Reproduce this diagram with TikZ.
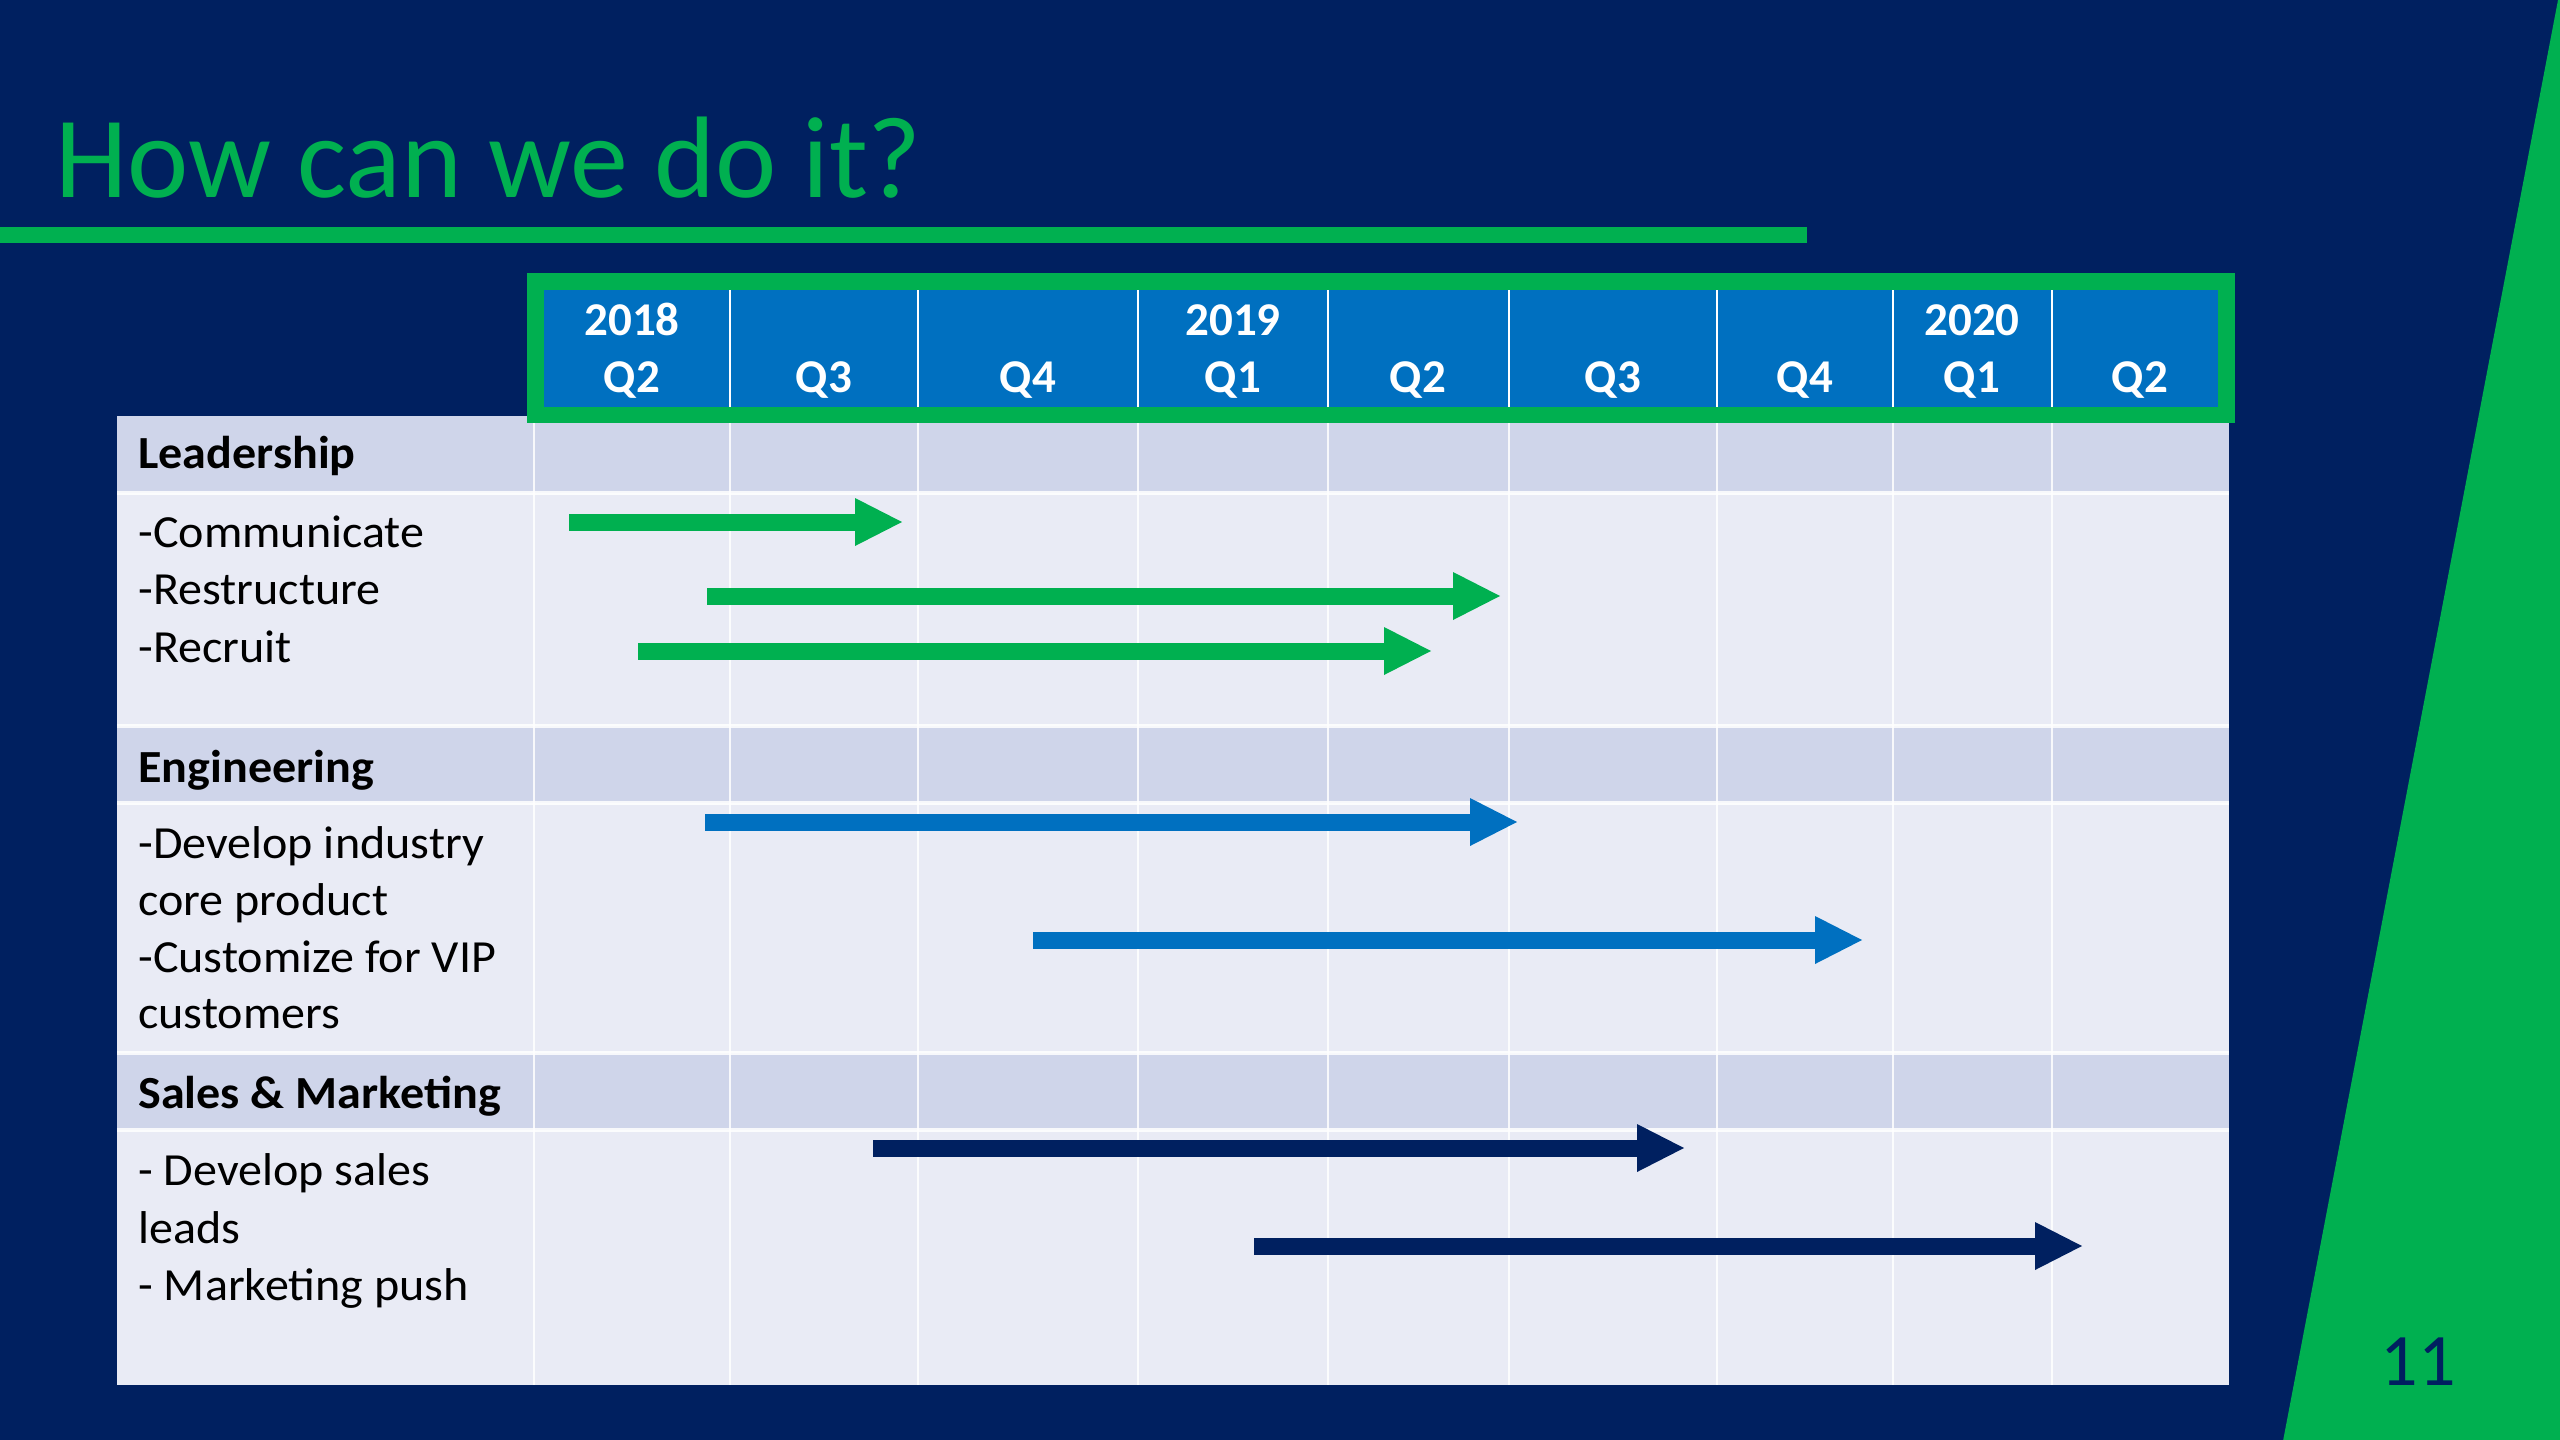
\documentclass[tikz,border=0pt]{standalone}
\usepackage{fontspec}
\setmainfont{Carlito}
\newfontfamily\widefont[FakeStretch=1.045]{Carlito}
\usetikzlibrary{arrows.meta}
\definecolor{navy}{HTML}{002060}
\definecolor{sgreen}{HTML}{00B050}
\definecolor{sblue}{HTML}{0070C0}
\definecolor{hdrrow}{HTML}{CFD5EA}
\definecolor{bodyrow}{HTML}{E9EBF5}
\tikzset{
  lbl/.style={anchor=base west, inner sep=0pt, text=black, font=\widefont\fontsize{23pt}{28pt}\selectfont},
  lblb/.style={lbl, font=\widefont\bfseries\fontsize{23pt}{28pt}\selectfont},
  qtr/.style={anchor=base, inner sep=0pt, text=white, font=\bfseries\fontsize{23.5pt}{28pt}\selectfont},
  bar/.style={line width=8.5pt, draw=#1, -{Triangle[length=23.5pt, width=24pt, line width=0pt]}},
  gridline/.style={draw=white, line width=1.2pt, opacity=0.85},
}
\begin{document}
\begin{tikzpicture}[x=0.5pt, y=-0.5pt]
\fill[navy] (0,0) rectangle (2560,1440);
\useasboundingbox (0,0) rectangle (2560,1440);
% green wedge on the right
\fill[sgreen] (2558,0) -- (2561,0) -- (2561,1441) -- (2283,1441) -- cycle;
% title
\node[anchor=base west, inner sep=0pt, text=sgreen, font=\fontsize{58pt}{70pt}\selectfont] (title) at (55,197) {How can we do it?};
\fill[sgreen] (0,227) rectangle (1807,243);
% table rows
\fill[hdrrow] (117,416) rectangle (2229,493);
\fill[bodyrow] (117,493) rectangle (2229,726);
\fill[hdrrow] (117,726) rectangle (2229,803);
\fill[bodyrow] (117,803) rectangle (2229,1053);
\fill[hdrrow] (117,1053) rectangle (2229,1130);
\fill[bodyrow] (117,1130) rectangle (2229,1385);
\foreach \yy in {493,726,803,1053,1130}
  \draw[gridline, line width=1.6pt] (117,\yy) -- (2229,\yy);
\foreach \xx in {534,730,918,1138,1328,1509,1717,1893,2052}
  \draw[gridline] (\xx,416) -- (\xx,1385);
% header box
\fill[sgreen] (527,273) rectangle (2235,423);
\fill[sblue] (544,290) rectangle (2218,407);
\foreach \xx in {730,918,1138,1328,1509,1717,1893,2052}
  \draw[draw=white, line width=1.2pt] (\xx,290) -- (\xx,407);
% quarter labels
\node[qtr] (y18) at (632,335) {2018};
\node[qtr] (q1) at (632,392) {Q2};
\node[qtr] (q2) at (824,392) {Q3};
\node[qtr] (q3) at (1028,392) {Q4};
\node[qtr] (y19) at (1233,335) {2019};
\node[qtr] (q4) at (1233,392) {Q1};
\node[qtr] (q5) at (1418,392) {Q2};
\node[qtr] (q6) at (1613,392) {Q3};
\node[qtr] (q7) at (1805,392) {Q4};
\node[qtr] (y20) at (1972,335) {2020};
\node[qtr] (q8) at (1972,392) {Q1};
\node[qtr] (q9) at (2140,392) {Q2};
% row labels
\node[lblb] (lead) at (138,468) {Leadership};
\node[lbl] (l1) at (138,547) {-Communicate};
\node[lbl] (l2) at (138,604) {-Restructure};
\node[lbl] (l3) at (138,662) {-Recruit};
\node[lblb] (eng) at (138,782) {Engineering};
\node[lbl] (e1) at (138,858) {-Develop industry};
\node[lbl] (e2) at (138,915) {core product};
\node[lbl] (e3) at (138,972) {-Customize for VIP};
\node[lbl] (e4) at (138,1028) {customers};
\node[lblb] (sal) at (138,1108) {Sales \& Marketing};
\node[lbl] (s1) at (138,1185) {- Develop sales};
\node[lbl] (s2) at (138,1243) {leads};
\node[lbl] (s3) at (138,1300) {- Marketing push};
% bars
\coordinate (g1a) at (569,522);  \coordinate (g1b) at (902,522);
\coordinate (g2a) at (707,596);  \coordinate (g2b) at (1500,596);
\coordinate (g3a) at (638,651);  \coordinate (g3b) at (1431,651);
\coordinate (b1a) at (705,822);  \coordinate (b1b) at (1517,822);
\coordinate (b2a) at (1033,940); \coordinate (b2b) at (1862,940);
\coordinate (n1a) at (873,1148); \coordinate (n1b) at (1684,1148);
\coordinate (n2a) at (1254,1246);\coordinate (n2b) at (2082,1246);
\draw[bar=sgreen] (g1a) -- (g1b);
\draw[bar=sgreen] (g2a) -- (g2b);
\draw[bar=sgreen] (g3a) -- (g3b);
\draw[bar=sblue] (b1a) -- (b1b);
\draw[bar=sblue] (b2a) -- (b2b);
\draw[bar=navy] (n1a) -- (n1b);
\draw[bar=navy] (n2a) -- (n2b);
% page number
\node[anchor=base, inner sep=0pt, text=navy, font=\fontsize{37pt}{44pt}\selectfont] (pgno) at (2418,1385) {11};
\end{tikzpicture}
\end{document}
